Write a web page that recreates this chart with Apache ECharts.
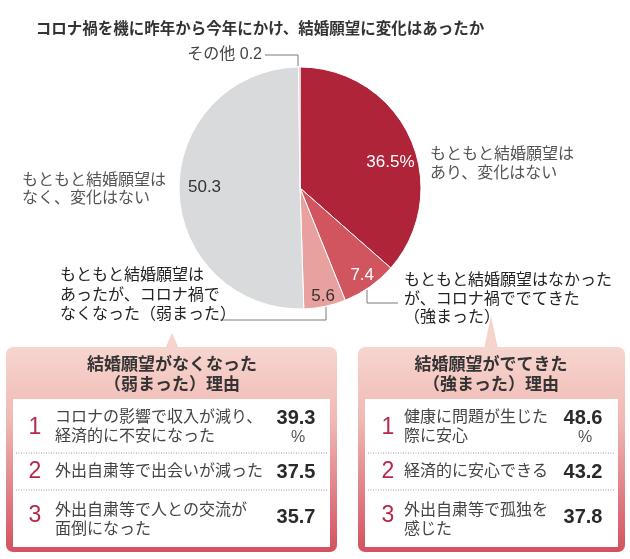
<!DOCTYPE html>
<html><head><meta charset="utf-8">
<script src="https://cdn.jsdelivr.net/npm/echarts@6/dist/echarts.min.js"></script>
<style>html,body{margin:0;padding:0;background:#fff}#c{width:630px;height:559px}</style>
</head><body><div id="c"></div>
<script>
// ---- data ----
const chartTitle = 'コロナ禍を機に昨年から今年にかけ、結婚願望に変化はあったか';
const categories = [
  'もともと結婚願望は\nあり、変化はない',
  'もともと結婚願望はなかった\nが、コロナ禍ででてきた\n（強まった）',
  'もともと結婚願望は\nあったが、コロナ禍で\nなくなった（弱まった）',
  'もともと結婚願望は\nなく、変化はない',
  'その他'
];
const values = [36.5, 7.4, 5.6, 50.3, 0.2];

const lossTitle = ['結婚願望がなくなった', '（弱まった）理由'];
const lossReasons = ['コロナの影響で収入が減り、\n経済的に不安になった', '外出自粛等で出会いが減った', '外出自粛等で人との交流が\n面倒になった'];
const lossValues = [39.3, 37.5, 35.7];

const gainTitle = ['結婚願望がでてきた', '（強まった）理由'];
const gainReasons = ['健康に問題が生じた\n際に安心', '経済的に安心できる', '外出自粛等で孤独を\n感じた'];
const gainValues = [48.6, 43.2, 37.8];

// ---- styles ----
const FF = "'Liberation Sans','Noto Sans CJK JP',sans-serif";
const sliceColors = ['#b0243a', '#d0555f', '#e9a19f', '#d9dadc', '#b8b8b8'];
const innerLabelColors = ['#ffffff', '#ffffff', '#333333', '#333333', '#333333'];
const innerNudge = [[-3, 16], [3, 4], [2, 8], [7, -3], [0, 0]];
const CX = 300, CY = 188, R = 121;

const chart = echarts.init(document.getElementById('c'), null, {renderer: 'canvas'});

const pieData = values.map((v, i) => ({name: categories[i], value: v, itemStyle: {color: sliceColors[i]}}));
const labelData = values.map((v, i) => ({
  name: categories[i], value: v,
  label: {show: i !== 4, color: innerLabelColors[i]}
}));

const graphic = [];
function txt(x, y, text, opt) {
  graphic.push({type: 'text', x: x, y: y, z: 10, style: Object.assign({
    text: text, font: '16px ' + FF, fill: '#444', align: 'left', verticalAlign: 'middle'
  }, opt || {})});
}
function mlText(x, yFirst, text, lh, opt) {
  graphic.push({type: 'text', x: x, y: yFirst - lh / 2, z: 10, style: Object.assign({
    text: text, font: '16px ' + FF, fill: '#444', align: 'left', verticalAlign: 'top', lineHeight: lh
  }, opt || {})});
}
function poly(points) {
  graphic.push({type: 'polyline', z: 5, shape: {points: points}, style: {stroke: '#7a7a7a', lineWidth: 1, fill: null}});
}

// title
txt(260, 30, chartTitle, {font: 'bold 15.5px ' + FF, fill: '#333', align: 'center'});

// outer labels
txt(262, 55, categories[4] + ' ' + values[4].toFixed(1), {align: 'right', fill: '#444'});
poly([[265, 55], [298, 55], [298, 66]]);
mlText(430, 155, categories[0], 19, {fill: '#555'});
mlText(22, 181, categories[3], 18, {fill: '#555'});
mlText(404, 281, categories[1], 18.5, {fill: '#222'});
poly([[367, 290], [367, 303], [398, 303]]);
mlText(60, 276, categories[2], 19.5, {fill: '#222'});
poly([[326, 307], [326, 320], [220, 320]]);

// boxes
function box(x, y, w, h, px, apexY, tTitle, reasons, vals, rankX, textX, valX) {
  const grad = new echarts.graphic.LinearGradient(0, 0, 0, 1, [
    {offset: 0, color: '#f7d5cf'}, {offset: 0.35, color: '#f0bab5'}, {offset: 1, color: '#d4515f'}
  ]);
  graphic.push({type: 'polygon', z: 1, shape: {points: [[px - 7, y + 2], [px, apexY], [px + 7, y + 2]]}, style: {fill: '#f6d3cd'}});
  graphic.push({type: 'rect', z: 1, shape: {x: x, y: y, width: w, height: h, r: 7}, style: {fill: grad}});
  graphic.push({type: 'rect', z: 2, shape: {x: x + 7, y: 399, width: w - 14, height: h - 57}, style: {fill: '#ffffff'}});
  txt(px, 365, tTitle[0], {font: 'bold 17px ' + FF, fill: '#333', align: 'center'});
  txt(px, 385, tTitle[1], {font: 'bold 17px ' + FF, fill: '#333', align: 'center'});
  // separators
  [453, 490].forEach(sy => graphic.push({type: 'line', z: 3, shape: {x1: x + 10, y1: sy, x2: x + w - 10, y2: sy}, style: {stroke: '#9a9a9a', lineWidth: 1, lineDash: [1, 1.5]}}));
  const rankY = [428, 472, 516];
  const textY = [[418, 437], [472], [511, 529]];
  const valY = [418, 472, 517];
  reasons.forEach((r, i) => {
    txt(rankX, rankY[i], String(i + 1), {font: '23px ' + FF, fill: '#b5284a', align: 'center'});
    mlText(textX, textY[i][0], r, 19, {fill: '#444'});
    txt(valX, valY[i], vals[i].toFixed(1), {font: 'bold 20px ' + FF, fill: '#2a2a2a', align: 'center'});
    if (i === 0) txt(valX + 2, 438, '%', {font: '16px ' + FF, fill: '#555', align: 'center'});
  });
}
box(6, 347, 331, 205, 172, 333, lossTitle, lossReasons, lossValues, 35, 55, 296);
box(358, 347, 267, 205, 491, 316, gainTitle, gainReasons, gainValues, 388, 404, 583);

chart.setOption({
  animation: false,
  backgroundColor: '#ffffff',
  series: [
    {
      type: 'pie', center: [CX, CY], radius: [0, R], startAngle: 90, clockwise: true,
      avoidLabelOverlap: false, silent: true,
      itemStyle: {borderColor: '#ffffff', borderWidth: 1},
      label: {show: false}, labelLine: {show: false},
      data: pieData
    },
    {
      type: 'pie', center: [CX, CY], radius: [78, R], startAngle: 90, clockwise: true,
      avoidLabelOverlap: false, silent: true, z: 3,
      itemStyle: {color: 'rgba(0,0,0,0)', borderWidth: 0},
      label: {
        show: true, position: 'inside', fontFamily: FF, fontSize: 17,
        formatter: p => p.dataIndex === 0 ? p.value.toFixed(1) + '%' : p.value.toFixed(1)
      },
      labelLine: {show: false},
      labelLayout: p => ({dx: innerNudge[p.dataIndex][0], dy: innerNudge[p.dataIndex][1]}),
      data: labelData
    }
  ],
  graphic: graphic
});
</script>
</body></html>
